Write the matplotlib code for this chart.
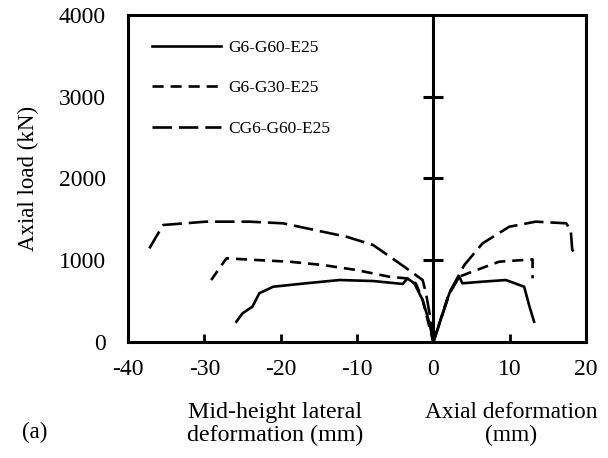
import matplotlib
matplotlib.use('Agg')
import matplotlib.pyplot as plt

plt.rcParams['font.family'] = ['Liberation Serif', 'DejaVu Serif']
plt.rcParams['font.size'] = 16.5
plt.rcParams['axes.unicode_minus'] = False
plt.rcParams['lines.scale_dashes'] = False

# left branch: mid-height lateral deformation (negative), right branch: axial deformation
g60_left_x = [-25.8, -25.0, -23.7, -22.8, -21.0, -16.7, -12.3, -7.9, -4.0, -3.4, -2.5, -1.4, -0.5, 0.0]
g60_left_y = [248, 351, 432, 596, 676, 718, 758, 746, 710, 779, 718, 514, 229, 0]
g60_right_x = [0.0, 2.1, 3.4, 3.8, 6.45, 9.5, 11.9, 12.6, 13.2]
g60_right_y = [0, 596, 799, 718, 738, 758, 676, 432, 248]

g30_left_x = [-29.1, -27.1, -23.2, -18.8, -14.5, -10.1, -5.8, -3.6, -2.3, -1.4, -0.75, 0.0]
g30_left_y = [758, 1024, 1003, 982, 942, 881, 799, 779, 718, 514, 269, 0]
g30_right_x = [0.0, 2.0, 3.4, 5.1, 8.6, 13.0, 13.0]
g30_right_y = [0, 580, 799, 860, 982, 1011, 779]

cg_left_x = [-37.2, -35.4, -29.8, -24.1, -19.7, -14.5, -11.4, -7.9, -4.45, -2.9, -1.4, -0.96, -0.5, 0.0]
cg_left_y = [1146, 1431, 1472, 1472, 1452, 1349, 1288, 1187, 963, 860, 758, 596, 351, 0]
cg_right_x = [0.0, 2.2, 4.06, 6.45, 9.95, 13.4, 17.4, 18.0, 18.2, 19.1]
cg_right_y = [0, 620, 942, 1207, 1410, 1472, 1452, 1370, 1125, 1060]

labels = ['G6-G60-E25', 'G6-G30-E25', 'CG6-G60-E25']
xticks = [-40, -30, -20, -10, 0, 10, 20]
yticks = [0, 1000, 2000, 3000, 4000]

fig = plt.figure(figsize=(6.08, 4.58), dpi=100)
ax = fig.add_axes([128/608, 1-342/458, 458/608, 327/458])

lw = 1.9
short = (8, 5)
long_ = (14, 5)
l1, = ax.plot(g60_left_x, g60_left_y, color='black', lw=lw, label=labels[0])
ax.plot(g60_right_x, g60_right_y, color='black', lw=lw)
l2, = ax.plot(g30_left_x, g30_left_y, color='black', lw=lw, dashes=short, label=labels[1])
ax.plot(g30_right_x, g30_right_y, color='black', lw=lw, dashes=short)
l3, = ax.plot(cg_left_x, cg_left_y, color='black', lw=lw, dashes=long_, label=labels[2])
ax.plot(cg_right_x, cg_right_y, color='black', lw=lw, dashes=long_)

# vertical line at zero with cross ticks
ax.axvline(0, color='black', lw=2.2)
ax.plot([0]*3, yticks[1:4], ls='none', marker='_', markersize=14, mew=2.2, color='black')

ax.set_xlim(-40, 20)
ax.set_ylim(0, 4000)
ax.set_xticks(xticks)
ax.set_yticks(yticks)
ax.tick_params(axis='x', direction='in', length=6, width=2, pad=12, labelsize=17)
ax.tick_params(axis='y', length=0, pad=16, labelsize=17)
for s in ax.spines.values():
    s.set_linewidth(2.2)

ax.set_ylabel('Axial load (kN)', labelpad=14)

fig.text(275/608, 1-424/458, 'Mid-height lateral\ndeformation (mm)', ha='center', va='center',
         linespacing=1.12, fontsize=17.3)
fig.text(511/608, 1-424/458, 'Axial deformation\n(mm)', ha='center', va='center',
         linespacing=1.12, fontsize=16.8)
fig.text(35/608, 1-432/458, '(a)', ha='center', va='center')

ax.legend(handles=[l1, l2, l3], loc='upper left', bbox_to_anchor=(0.052, 0.925),
          frameon=False, borderaxespad=0, borderpad=0, handlelength=4.0,
          handletextpad=0.4, labelspacing=1.4, fontsize=12.5)

fig.savefig('out.png', dpi=100)
